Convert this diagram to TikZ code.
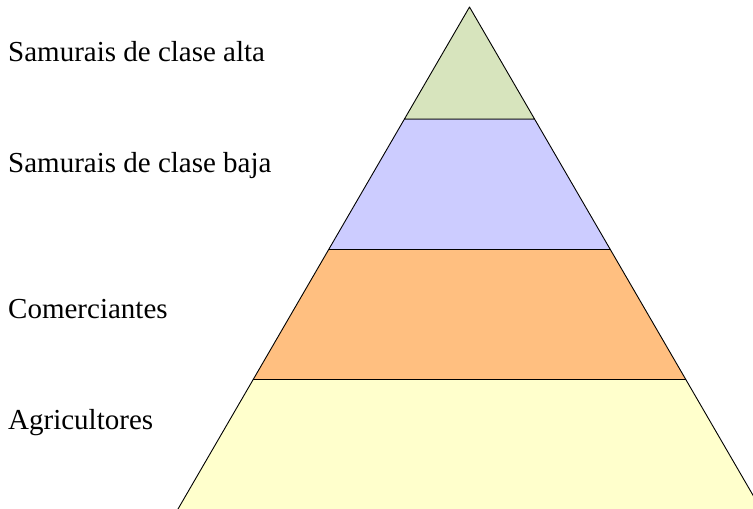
\documentclass[tikz,border=0pt]{standalone}
\usepackage{fontspec}
\setmainfont{Liberation Serif}
\usetikzlibrary{calc}
\definecolor{layerA}{RGB}{215,228,189}
\definecolor{layerB}{RGB}{204,204,255}
\definecolor{layerC}{RGB}{255,191,128}
\definecolor{layerD}{RGB}{255,255,204}
\tikzset{
  layer/.style={draw=black, line width=0.9pt, line join=round},
  lbl/.style={anchor=base west, inner sep=0pt, font=\fontsize{29}{34}\selectfont, text=black}
}
\begin{document}
\begin{tikzpicture}[x=1pt,y=-1pt]
\useasboundingbox (0,0) rectangle (753,509);
\clip (0,0) rectangle (753,509);
\coordinate (apex) at (469.5,7);
\coordinate (bl) at (178,509);
\coordinate (br) at (761,509);
\coordinate (blx) at ($(apex)!1.02!(bl)$);
\coordinate (brx) at ($(apex)!1.02!(br)$);
\coordinate (l1) at ($(apex)!0.2231!(bl)$);
\coordinate (r1) at ($(apex)!0.2231!(br)$);
\coordinate (l2) at ($(apex)!0.4831!(bl)$);
\coordinate (r2) at ($(apex)!0.4831!(br)$);
\coordinate (l3) at ($(apex)!0.7420!(bl)$);
\coordinate (r3) at ($(apex)!0.7420!(br)$);
\filldraw[layer, fill=layerD] (l3) -- (blx) -- (brx) -- (r3) -- cycle;
\filldraw[layer, fill=layerC] (l2) -- (l3) -- (r3) -- (r2) -- cycle;
\filldraw[layer, fill=layerB] (l1) -- (l2) -- (r2) -- (r1) -- cycle;
\filldraw[layer, fill=layerA] (apex) -- (l1) -- (r1) -- cycle;
\node[lbl] (t1) at (8,61) {Samurais de clase alta};
\node[lbl] (t2) at (8,172) {Samurais de clase baja};
\node[lbl] (t3) at (8,318) {Comerciantes};
\node[lbl] (t4) at (8,429) {Agricultores};
\end{tikzpicture}
\end{document}
